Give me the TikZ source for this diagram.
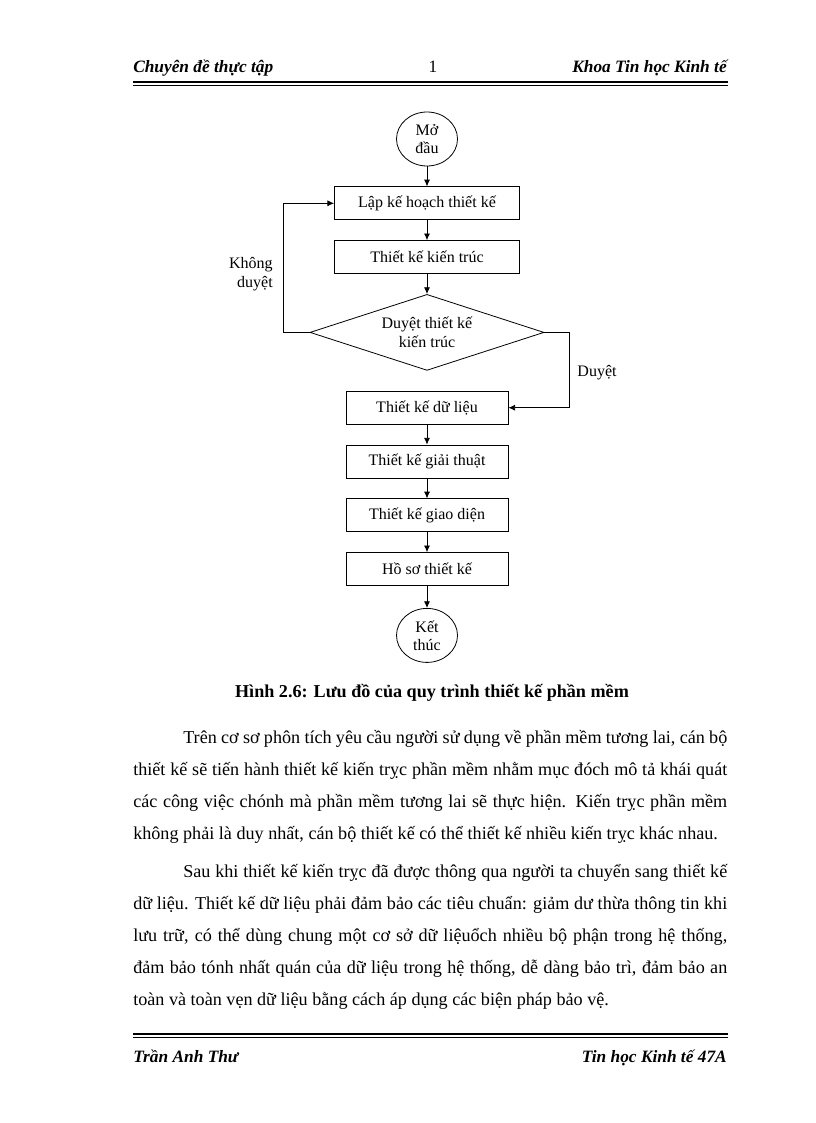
\documentclass[tikz,border=0pt]{standalone}
\usepackage{fontspec}
\setmainfont{Liberation Serif}
\usetikzlibrary{positioning, shapes.geometric, arrows.meta}

\newcommand{\fullline}[1]{\makebox[445.5pt][s]{#1}}
\newcommand{\firstline}[1]{\makebox[408pt][s]{#1}}

\begin{document}
\begin{tikzpicture}[x=0.75pt, y=-0.75pt,
    box/.style={rectangle, draw, line width=0.6pt, minimum width=121.5pt, minimum height=24.75pt, inner sep=2pt, font=\fontsize{12}{14.5}\selectfont},
    widebox/.style={box, minimum width=138.75pt},
    term/.style={ellipse, draw, line width=0.6pt, minimum width=45.75pt, minimum height=40.5pt, inner sep=0pt, align=center, font=\fontsize{12}{13.5}\selectfont},
    decision/.style={diamond, draw, line width=0.6pt, aspect=3.08, minimum width=175.5pt, minimum height=57pt, inner sep=0pt, align=center, font=\fontsize{12}{14.25}\selectfont},
    flow/.style={-{Latex[length=5pt, width=4.5pt]}, line width=0.6pt},
    tag/.style={inner sep=0pt, font=\fontsize{12}{14.25}\selectfont},
    head/.style={inner sep=0pt, font=\fontsize{13}{15}\selectfont\bfseries\itshape},
    textline/.style={anchor=base west, inner sep=0pt, font=\fontsize{13.6}{16}\selectfont}]
    \useasboundingbox (0,0) rectangle (816,1123);

    % header and footer
    \node [head, anchor=base west] (headleft) at (133,73) {Chuyên đề thực tập};
    \node [head, anchor=base, font=\fontsize{13}{15}\selectfont] (headnum) at (433,73) {1};
    \node [head, anchor=base east] (headright) at (727,73) {Khoa Tin học Kinh tế};
    \draw [line width=1.1pt] (133,82) -- (728,82);
    \draw [line width=0.5pt] (133,85.5) -- (728,85.5);
    \draw [line width=1.1pt] (133,1034) -- (728,1034);
    \draw [line width=0.5pt] (133,1037.5) -- (728,1037.5);
    \node [head, anchor=base west] (footleft) at (133,1062) {Trần Anh Thư};
    \node [head, anchor=base east] (footright) at (727,1062) {Tin học Kinh tế 47A};

    % flowchart
    \node [term] (start) at (427,139) {Mở\\đầu};
    \node [widebox, below=15pt of start] (plan) {Lập kế hoạch thiết kế};
    \node [widebox, below=15pt of plan] (arch) {Thiết kế kiến trúc};
    \node [decision, below=15pt of arch] (review) {Duyệt thiết kế\\kiến trúc};
    \node [box, below=15pt of review] (data) {Thiết kế dữ liệu};
    \node [box, below=15pt of data] (algo) {Thiết kế giải thuật};
    \node [box, below=15pt of algo] (ui) {Thiết kế giao diện};
    \node [box, below=15pt of ui] (docs) {Hồ sơ thiết kế};
    \node [term, below=16.5pt of docs] (stop) {Kết\\thúc};
    \node [tag, anchor=east, align=right] (noapprove) at (273,274) {Không\\duyệt};
    \node [tag] (approve) at (597,373) {Duyệt};
    \draw [flow] (start) -- (plan);
    \draw [flow] (plan) -- (arch);
    \draw [flow] (arch) -- (review);
    \draw [flow] (review.west) -- ++(-26,0) |- (plan.west);
    \draw [flow] (review.east) -- ++(25,0) |- (data.east);
    \draw [flow] (data) -- (algo);
    \draw [flow] (algo) -- (ui);
    \draw [flow] (ui) -- (docs);
    \draw [flow] (docs) -- (stop);

    % caption and text
    \node [anchor=base, inner sep=0pt, font=\fontsize{13.6}{16}\selectfont\bfseries] (caption) at (432,697) {Hình 2.6: Lưu đồ của quy trình thiết kế phần mềm};
    \node [textline] (p1a) at (183,743) {\firstline{Trên cơ sơ phôn tích yêu cầu người sử dụng về phần mềm tương lai, cán bộ}};
    \node [textline] (p1b) at (133,775) {\fullline{thiết kế sẽ tiến hành thiết kế kiến trỵc phần mềm nhằm mục đóch mô tả khái quát}};
    \node [textline] (p1c) at (133,807) {\fullline{các công việc chónh mà phần mềm tương lai sẽ thực hiện. Kiến trỵc phần mềm}};
    \node [textline] (p1d) at (133,839) {không phải là duy nhất, cán bộ thiết kế có thể thiết kế nhiều kiến trỵc khác nhau.};
    \node [textline] (p2a) at (183,877) {\firstline{Sau khi thiết kế kiến trỵc đã được thông qua người ta chuyển sang thiết kế}};
    \node [textline] (p2b) at (133,909) {\fullline{dữ liệu. Thiết kế dữ liệu phải đảm bảo các tiêu chuẩn: giảm dư thừa thông tin khi}};
    \node [textline] (p2c) at (133,941) {\fullline{lưu trữ, có thể dùng chung một cơ sở dữ liệuổch nhiều bộ phận trong hệ thống,}};
    \node [textline] (p2d) at (133,973) {\fullline{đảm bảo tónh nhất quán của dữ liệu trong hệ thống, dễ dàng bảo trì, đảm bảo an}};
    \node [textline] (p2e) at (133,1005) {toàn và toàn vẹn dữ liệu bằng cách áp dụng các biện pháp bảo vệ.};
\end{tikzpicture}
\end{document}
